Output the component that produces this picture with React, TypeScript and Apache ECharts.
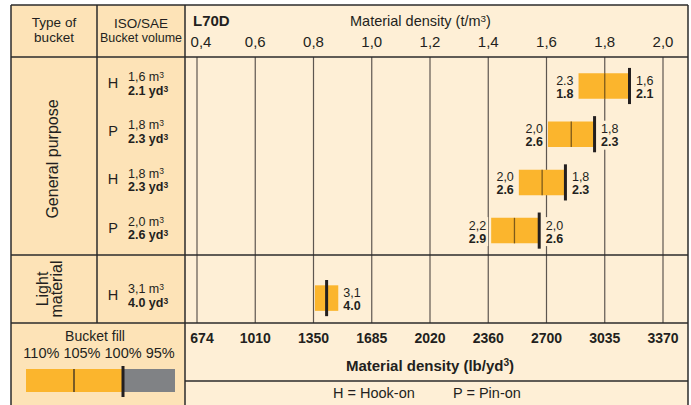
import React, { useEffect, useRef } from "react";
import * as echarts from "echarts";

// ---- data ----
const densityTicks = [0.4, 0.6, 0.8, 1.0, 1.2, 1.4, 1.6, 1.8, 2.0];
const densityTickLabels = ["0,4", "0,6", "0,8", "1,0", "1,2", "1,4", "1,6", "1,8", "2,0"];
const lbTickLabels = ["674", "1010", "1350", "1685", "2020", "2360", "2700", "3035", "3370"];

const hitch = ["H", "P", "H", "P", "H"];
const volM3 = ["1,6", "1,8", "1,8", "2,0", "3,1"];
const volYd3 = ["2.1", "2.3", "2.3", "2.6", "4.0"];
const rowIndex = [0, 1, 2, 3, 4.4];
const fill110 = [1.71, 1.605, 1.505, 1.41, 0.805];
const fill105: (number | null)[] = [1.8, 1.685, 1.585, 1.49, null];
const fill100 = [1.885, 1.765, 1.665, 1.575, 0.845];
const barEnd = [1.885, 1.765, 1.665, 1.575, 0.885];
const leftTop = ["2.3", "2,0", "2,0", "2,2", ""];
const leftBottom = ["1.8", "2.6", "2.6", "2.9", ""];
const rightTop = ["1,6", "1,8", "1,8", "2,0", "3,1"];
const rightBottom = ["2.1", "2.3", "2.3", "2.6", "4.0"];

// ---- style ----
const FONT = '"Liberation Sans", Arial, Helvetica, sans-serif';
const TAN = "#FDE3B7";
const CREAM = "#FEEFD6";
const ORANGE = "#FBB52D";
const GREY = "#808285";
const INK = "#231F20";
const BORDER = "#2b2b2b";
const GRID_C = "#5e5650";
const MID_C = "#7d5a1a";

const X_MIN = 0.4 - 12 / 291.25;
const X_MAX = 2.0 + 25 / 291.25;
const Y_MIN = -0.6017;
const Y_MAX = Y_MIN + 266 / 48.2;

const tickIdx = (v: number) => densityTicks.findIndex((t) => Math.abs(t - v) < 1e-6);

export default function App() {
  const ref = useRef<HTMLDivElement>(null);
  useEffect(() => {
    if (!ref.current) return;
    const chart = echarts.init(ref.current, null, { renderer: "svg" });

    const hline = (x1: number, y1: number, x2: number, y2: number) => ({
      type: "line",
      z: 100,
      silent: true,
      shape: { x1, y1, x2, y2 },
      style: { stroke: BORDER, lineWidth: 1.5 },
    });
    const txt = (x: number, y: number, text: string, extra: any = {}) => ({
      type: "text",
      x,
      y,
      z: 50,
      silent: true,
      style: {
        text,
        fill: INK,
        fontFamily: FONT,
        fontSize: 13.5,
        align: "left",
        verticalAlign: "middle",
        ...extra,
      },
    });

    const richLabel = {
      n: { fontSize: 12.5, fontFamily: FONT, fill: INK, color: INK, lineHeight: 13 },
      b: { fontSize: 12.5, fontFamily: FONT, fontWeight: "bold", fill: INK, color: INK, lineHeight: 13 },
    };
    const richVol = {
      t: { fontSize: 12.5, fontFamily: FONT, fill: INK, color: INK, lineHeight: 13.5 },
      s: { fontSize: 8.5, fontFamily: FONT, fill: INK, color: INK, lineHeight: 6, verticalAlign: "top" },
      bt: { fontSize: 12.5, fontFamily: FONT, fontWeight: "bold", fill: INK, color: INK, lineHeight: 13.5 },
      bs: { fontSize: 8.5, fontFamily: FONT, fontWeight: "bold", fill: INK, color: INK, lineHeight: 6, verticalAlign: "top" },
    };
    const richTitle = (size: number, weight: string) => ({
      t: { fontSize: size, fontFamily: FONT, fontWeight: weight, fill: INK, color: INK, lineHeight: 16 },
      s: { fontSize: size * 0.68, fontFamily: FONT, fontWeight: weight, fill: INK, color: INK, lineHeight: 9, verticalAlign: "top" },
    });

    const option: any = {
      animation: false,
      grid: { left: 185, right: 3, top: 57, bottom: 82 },
      xAxis: [
        {
          type: "value",
          position: "top",
          min: X_MIN,
          max: X_MAX,
          axisLine: { show: false },
          axisTick: { show: false },
          splitLine: { show: false },
          axisLabel: {
            customValues: densityTicks,
            formatter: (v: number) => {
              const i = tickIdx(v);
              const s = densityTickLabels[i] ?? "";
              return i === 0 ? `{f|${s}}` : s;
            },
            rich: { f: { fontSize: 15, fontFamily: FONT, color: INK, padding: [0, 0, 0, 8] } },
            margin: 8,
            fontSize: 15,
            color: INK,
            fontFamily: FONT,
          },
        },
        {
          type: "value",
          position: "bottom",
          min: X_MIN,
          max: X_MAX,
          axisLine: { show: false },
          axisTick: { show: false },
          splitLine: { show: false },
          axisLabel: {
            customValues: densityTicks,
            formatter: (v: number) => {
              const i = tickIdx(v);
              const s = lbTickLabels[i] ?? "";
              return i === 0 ? `{f|${s}}` : s;
            },
            rich: { f: { fontSize: 14, fontWeight: "bold", fontFamily: FONT, color: INK, padding: [0, 0, 0, 10] } },
            margin: 8,
            fontSize: 14,
            fontWeight: "bold",
            color: INK,
            fontFamily: FONT,
          },
        },
      ],
      yAxis: { type: "value", inverse: true, min: Y_MIN, max: Y_MAX, show: false },
      series: [
        {
          type: "custom",
          xAxisIndex: 0,
          z: 1,
          silent: true,
          clip: false,
          data: densityTicks.map((v) => [v, Y_MIN]),
          encode: { x: 0, y: 1 },
          renderItem: (_p: any, api: any) => {
            const v = api.value(0);
            const a = api.coord([v, Y_MIN]);
            const b = api.coord([v, Y_MAX]);
            return {
              type: "line",
              shape: { x1: a[0], y1: a[1], x2: b[0], y2: b[1] },
              style: { stroke: GRID_C, lineWidth: 1.2 },
            };
          },
        },
        {
          type: "custom",
          xAxisIndex: 0,
          z: 3,
          silent: true,
          clip: false,
          data: rowIndex.map((r, i) => [fill110[i], r, barEnd[i]]),
          encode: { x: [0, 2], y: 1 },
          renderItem: (params: any, api: any) => {
            const i = params.dataIndex;
            const r = rowIndex[i];
            const [x0, yc] = api.coord([fill110[i], r]);
            const xk = api.coord([fill100[i], r])[0];
            const x1 = api.coord([barEnd[i], r])[0];
            const rowH = api.size([0, 1])[1];
            const bh = rowH * 0.53;
            const lh = rowH * 0.75;
            const children: any[] = [
              {
                type: "rect",
                shape: { x: x0, y: yc - bh / 2, width: x1 - x0, height: bh },
                style: { fill: ORANGE },
              },
            ];
            const m = fill105[i];
            if (m != null) {
              const xm = api.coord([m, r])[0];
              children.push({
                type: "line",
                shape: { x1: xm, y1: yc - bh / 2, x2: xm, y2: yc + bh / 2 },
                style: { stroke: MID_C, lineWidth: 1.3 },
              });
            }
            children.push({
              type: "rect",
              shape: { x: xk - 1.5, y: yc - lh / 2, width: 3, height: lh },
              style: { fill: INK },
            });
            if (leftTop[i]) {
              children.push({
                type: "text",
                x: x0 - 3,
                y: yc + 1,
                style: {
                  text: `{n|${leftTop[i]}}\n{b|${leftBottom[i]}}`,
                  rich: richLabel,
                  align: "right",
                  verticalAlign: "middle",
                  backgroundColor: CREAM,
                  padding: [2, 2, 1, 2],
                },
              });
            }
            children.push({
              type: "text",
              x: Math.max(x1, xk + 1.5) + 3,
              y: yc + 1,
              style: {
                text: `{n|${rightTop[i]}}\n{b|${rightBottom[i]}}`,
                rich: richLabel,
                align: "left",
                verticalAlign: "middle",
                backgroundColor: CREAM,
                padding: [2, 2, 1, 2],
              },
            });
            // row labels in the bucket-volume column
            children.push({
              type: "text",
              x: 113,
              y: yc - 3,
              style: { text: hitch[i], fill: INK, fontFamily: FONT, fontSize: 14.5, align: "center", verticalAlign: "middle" },
            });
            children.push({
              type: "text",
              x: 128,
              y: yc - 2,
              style: {
                text: `{t|${volM3[i]} m}{s|3}\n{bt|${volYd3[i]} yd}{bs|3}`,
                rich: richVol,
                align: "left",
                verticalAlign: "middle",
              },
            });
            return { type: "group", children };
          },
        },
      ],
      graphic: [
        { type: "rect", z: -10, silent: true, shape: { x: 11, y: 5, width: 174, height: 400 }, style: { fill: TAN } },
        { type: "rect", z: -10, silent: true, shape: { x: 185, y: 5, width: 503, height: 400 }, style: { fill: CREAM } },
        hline(11, 5, 688, 5),
        hline(11, 5, 11, 405),
        hline(688, 5, 688, 405),
        hline(11, 57, 688, 57),
        hline(97, 5, 97, 323),
        hline(185, 5, 185, 405),
        hline(11, 255, 688, 255),
        hline(11, 323, 688, 323),
        hline(185, 381, 688, 381),
        txt(54, 30, "Type of\nbucket", { align: "center", lineHeight: 15 }),
        txt(141, 23, "ISO/SAE", { align: "center" }),
        txt(141, 38, "Bucket volume", { align: "center", fontSize: 12.5 }),
        txt(193, 20, "L70D", { fontWeight: "bold", fontSize: 15 }),
        txt(350, 21, "{t|Material density (t/m}{s|3}{t|)}", { rich: richTitle(14.5, "normal") }),
        {
          type: "text",
          x: 52,
          y: 159,
          rotation: Math.PI / 2,
          z: 50,
          silent: true,
          style: { text: "General purpose", fill: INK, fontFamily: FONT, fontSize: 16, align: "center", verticalAlign: "middle" },
        },
        {
          type: "text",
          x: 49,
          y: 289,
          rotation: Math.PI / 2,
          z: 50,
          silent: true,
          style: {
            text: "Light\nmaterial",
            fill: INK,
            fontFamily: FONT,
            fontSize: 16,
            lineHeight: 14,
            align: "center",
            verticalAlign: "middle",
          },
        },
        txt(95, 336, "Bucket fill", { align: "center", fontSize: 14 }),
        txt(99, 353, "110% 105% 100% 95%", { align: "center", fontSize: 14.5 }),
        { type: "rect", z: 20, silent: true, shape: { x: 26, y: 369, width: 97, height: 23 }, style: { fill: ORANGE } },
        { type: "rect", z: 20, silent: true, shape: { x: 123, y: 369, width: 52, height: 23 }, style: { fill: GREY } },
        { type: "line", z: 21, silent: true, shape: { x1: 74, y1: 369, x2: 74, y2: 392 }, style: { stroke: INK, lineWidth: 1.2 } },
        { type: "rect", z: 21, silent: true, shape: { x: 121.5, y: 366, width: 3, height: 31 }, style: { fill: INK } },
        txt(430, 365, "{t|Material density (lb/yd}{s|3}{t|)}", { align: "center", rich: richTitle(15, "bold") }),
        txt(333, 393, "H = Hook-on", { fontSize: 14.5 }),
        txt(453, 393, "P = Pin-on", { fontSize: 14.5 }),
      ],
    };
    chart.setOption(option);
    return () => chart.dispose();
  }, []);
  return <div ref={ref} style={{ position: "absolute", left: 0, top: 0, width: 691, height: 405 }} />;
}
